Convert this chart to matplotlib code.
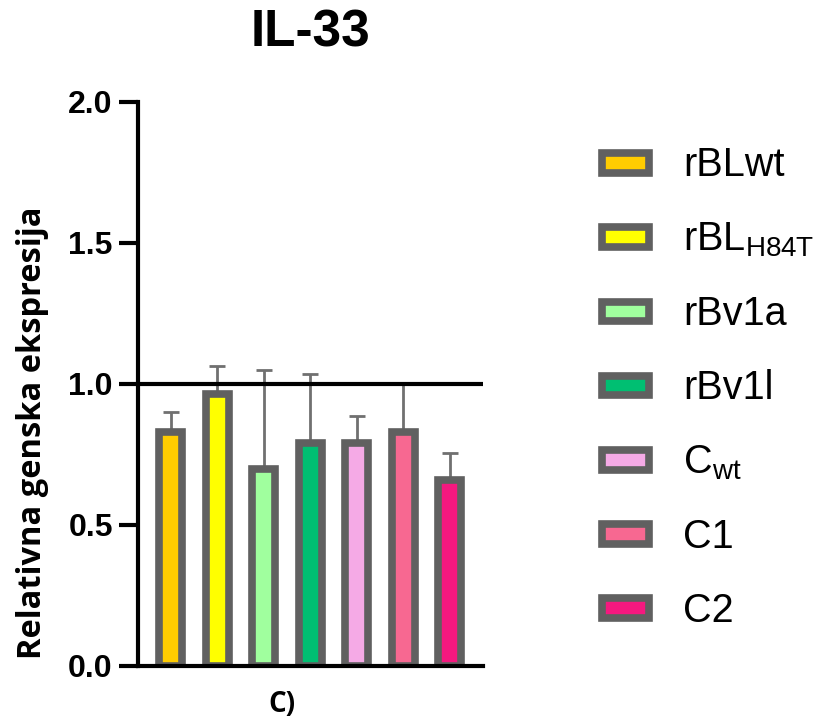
import matplotlib
matplotlib.use("Agg")
import matplotlib.pyplot as plt
from matplotlib.patches import Rectangle

plt.rcParams["font.family"] = ["Liberation Sans", "DejaVu Sans"]
plt.rcParams["mathtext.fontset"] = "custom"
plt.rcParams["mathtext.rm"] = "Liberation Sans"

# data
groups = ["rBLwt", "rBL$_{\\mathregular{H84T}}$", "rBv1a", "rBv1l",
          "C$_{\\mathregular{wt}}$", "C1", "C2"]
means = [0.83, 0.965, 0.70, 0.79, 0.79, 0.83, 0.66]
errs = [0.07, 0.10, 0.35, 0.245, 0.095, 0.17, 0.095]
colors = ["#FFCC00", "#FFFF00", "#A0FF9E", "#00BF72", "#F5AAE6", "#F76891", "#F5187F"]
yticks = [0.0, 0.5, 1.0, 1.5, 2.0]

EDGE = "#606060"
W, H = 825, 722

fig = plt.figure(figsize=(W / 100, H / 100), dpi=100)
ax = fig.add_axes([0.167, 0.0776, 0.418, 0.7814])

x = list(range(len(means)))
ax.errorbar(x, means, yerr=[[0] * len(errs), errs], fmt="none",
            ecolor="#707070", elinewidth=2, capsize=5.5, capthick=2, zorder=1)
ax.bar(x, means, width=0.5, color=colors, edgecolor=EDGE, linewidth=5.5, zorder=2)

ax.axhline(1.0, color="black", linewidth=3, zorder=3)

ax.set_xlim(-0.71, 6.71)
ax.set_ylim(0, 2.0)
ax.set_yticks(yticks)
ax.set_yticklabels([f"{t:.1f}" for t in yticks])
ax.set_xticks([])

for s in ["top", "right"]:
    ax.spines[s].set_visible(False)
for s in ["left", "bottom"]:
    ax.spines[s].set_linewidth(3)
ax.tick_params(axis="y", length=14, width=3, labelsize=23, pad=4)
for lbl in ax.get_yticklabels():
    lbl.set_fontweight("bold")

# labels placed by figure pixels
fig.text(32.5 / W, 1 - 432.5 / H, "Relativna genska ekspresija", rotation=90,
         ha="center", va="center", fontsize=23.5, fontweight="bold",
         family=["Open Sans", "DejaVu Sans"])
fig.text(310 / W, 1 - 33 / H, "IL-33", ha="center", va="center",
         fontsize=37, fontweight="bold")
fig.text(282 / W, 1 - 704 / H, "C)", ha="center", va="center",
         fontsize=20, fontweight="bold", family=["Open Sans", "DejaVu Sans"])

# legend drawn by hand: swatch + label per row
row0, step = 163, 74.2
for i, (lab, c) in enumerate(zip(groups, colors)):
    yc = row0 + i * step
    fig.patches.append(Rectangle((601.75 / W, 1 - (yc + 9.75) / H), 47.5 / W, 19.5 / H,
                                 transform=fig.transFigure, facecolor=c,
                                 edgecolor=EDGE, linewidth=5.5))
    fig.text(683 / W, 1 - (yc + 13.5) / H, lab, ha="left", va="baseline", fontsize=28.5)

fig.savefig("out.png", dpi=100)
